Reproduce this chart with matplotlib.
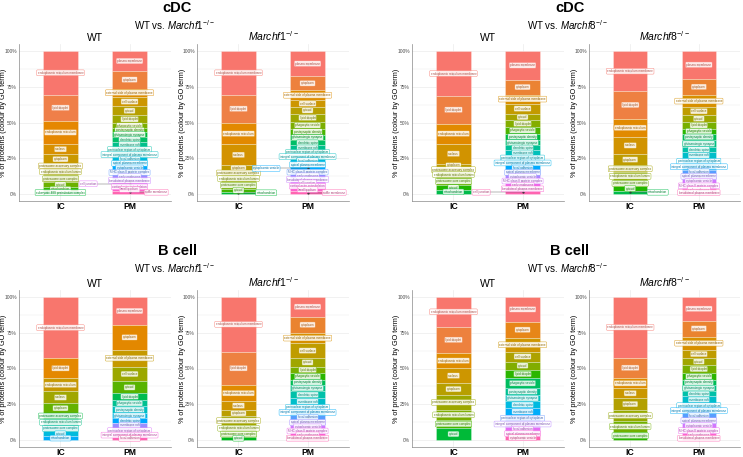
import numpy as np
import matplotlib
matplotlib.use('Agg')
import matplotlib.pyplot as plt

plt.rcParams['font.family'] = ['Liberation Sans', 'DejaVu Sans']
plt.rcParams['mathtext.fontset'] = 'custom'
plt.rcParams['mathtext.rm'] = 'Liberation Sans'
plt.rcParams['mathtext.it'] = 'Liberation Sans:italic'

# cumulative % boundaries of each stacked bar, top -> bottom
cdc_wt1_ic = [100, 69.6, 51, 35.1, 27.6, 21.1, 18, 12.9, 8.2, 4.7, 1.9, 0]
cdc_wt1_pm = [100, 86.2, 73.8, 67.9, 61.4, 55, 49.6, 46, 43.3, 39.8, 36.3, 32.8,
              29.3, 25.8, 22.9, 19.9, 16.4, 13.6, 10.5, 8.2, 5.9, 4, 2.3, 0]
cdc_m1_ic = [100, 69.6, 49.6, 34.7, 19.9, 16.4, 12.9, 8.5, 3.5, 1.5, 0]
cdc_m1_pm = [100, 82.4, 72.6, 65.6, 60.9, 56.2, 50.4, 45.7, 41.5, 37.5, 34, 30.4,
             27.6, 24.6, 21.8, 19.2, 16.4, 14.1, 11.2, 8.9, 6.6, 4.2, 1.9, 0]
cdc_wt8_ic = [100, 68.6, 49.2, 35.1, 21.1, 18.7, 15.2, 11.7, 5.9, 2.8, 0]
cdc_wt8_pm = [100, 80.1, 69.6, 63.2, 56.2, 51.5, 46.8, 42.2, 37.9, 33.9, 30.4, 26.9,
              23.4, 19.9, 16.4, 13.6, 10.5, 7.5, 4.7, 2.3, 0]
cdc_m8_ic = [100, 71.9, 52.7, 39.8, 28.1, 19.9, 15.2, 9.4, 5.2, 2.3, 0]
cdc_m8_pm = [100, 80.8, 69.1, 60.9, 55, 50.4, 45.7, 42.2, 37.5, 32.8, 29.3, 24.6,
             21.1, 16.9, 14.1, 10.5, 7, 4.2, 1.9, 0]

b_wt1_ic = [100, 57.2, 43.2, 33.9, 25.5, 19, 14.5, 10, 6, 2.5, 0]
b_wt1_pm = [100, 80.6, 63.1, 51.4, 40.9, 32.7, 28, 23.4, 18.7, 15, 12, 8.2, 4.7, 2, 0]
b_m1_ic = [100, 61.9, 38.6, 26.9, 21, 16.4, 10.5, 5.8, 2.3, 0]
b_m1_pm = [100, 86.4, 74.8, 67.8, 57.2, 51.4, 46.7, 42.1, 38.6, 33.9, 29.2, 24.5,
           21, 17.5, 14, 10.5, 7.7, 4.7, 2.3, 0]
b_wt8_ic = [100, 79.4, 60.7, 50.2, 39.7, 31.5, 21, 14, 8.2, 0]
b_wt8_pm = [100, 82.9, 71.3, 61.9, 54.9, 49.1, 43.2, 36.2, 31.5, 26.9, 22.2, 17.5,
            12.9, 9.3, 5.8, 3, 0]
b_m8_ic = [100, 57.7, 43.2, 36.2, 29.2, 21, 12.9, 5.8, 0]
b_m8_pm = [100, 83.6, 72.4, 63.1, 57.2, 52.6, 46.7, 42.1, 38.6, 33.9, 30.4, 25.7,
           22.2, 18.7, 15.2, 11.7, 8.2, 4.7, 2.3, 0]

ic_terms = ['endoplasmic reticulum membrane', 'lipid droplet', 'endoplasmic reticulum',
            'nucleus', 'cytoplasm', 'proteasome accessory complex',
            'endoplasmic reticulum lumen', 'proteasome core complex', 'cytosol',
            'mitochondrion', 'eukaryotic 48S preinitiation complex']
pm_terms = ['plasma membrane', 'cytoplasm', 'external side of plasma membrane',
            'cell surface', 'cytosol', 'lipid droplet', 'phagocytic vesicle',
            'postsynaptic density', 'glutamatergic synapse', 'dendritic spine',
            'membrane raft', 'perinuclear region of cytoplasm',
            'integral component of plasma membrane', 'focal adhesion',
            'apical plasma membrane', 'cytoplasmic vesicle',
            'MHC class II protein complex', 'early endosome',
            'basolateral plasma membrane', 'cell junction',
            'cortical actin cytoskeleton', 'lamellipodium', 'ruffle membrane',
            'cell projection']

group_names = ['cDC', 'cDC', 'B cell', 'B cell']
ko_names = ['Marchf1', 'Marchf8', 'Marchf1', 'Marchf8']
categories = ['IC', 'PM']
yticks = [0, 0.25, 0.5, 0.75, 1.0]
ytick_labels = ['0%', '25%', '50%', '75%', '100%']


def hcl(h, c=100, l=65):
    h = np.deg2rad(h)
    u, v = c * np.cos(h), c * np.sin(h)
    Xn, Yn, Zn = 95.047, 100.0, 108.883
    den = Xn + 15 * Yn + 3 * Zn
    un, vn = 4 * Xn / den, 9 * Yn / den
    Y = Yn * ((l + 16) / 116) ** 3
    up, vp = u / (13 * l) + un, v / (13 * l) + vn
    X = Y * 9 * up / (4 * vp)
    Z = Y * (12 - 3 * up - 20 * vp) / (4 * vp)
    M = np.array([[3.2406, -1.5372, -0.4986],
                  [-0.9689, 1.8758, 0.0415],
                  [0.0557, -0.2040, 1.0570]])
    rgb = np.clip(M @ np.array([X, Y, Z]) / 100, 0, None)
    rgb = np.where(rgb <= 0.0031308, 12.92 * rgb, 1.055 * rgb ** (1 / 2.4) - 0.055)
    return tuple(np.clip(rgb, 0, 1))


def draw_bar(ax, xc, bounds, terms, end_hue, offsets, placed):
    b = np.array(bounds) / 100.0
    n = len(b) - 1
    hues = np.linspace(15, end_hue, n)
    for i in range(n):
        top, bot = b[i], b[i + 1]
        col = hcl(hues[i])
        ax.bar(xc, top - bot, bottom=bot, width=0.5, color=col,
               edgecolor=(1, 1, 1, 0.5), linewidth=0.4, zorder=1)
        mid = (top + bot) / 2
        txt = terms[i % len(terms)]
        hw = len(txt) * 0.011 + 0.03
        best, best_n = xc, 99
        for off in offsets:
            cand = min(max(xc + off, 0.42 + hw), 2.58 - hw)
            n_hit = sum(abs(mid - py) < 0.028 and abs(cand - px) < hw + phw
                        for px, py, phw in placed)
            if n_hit < best_n:
                best, best_n = cand, n_hit
            if n_hit == 0:
                break
        xl = best
        placed.append((xl, mid, hw))
        ax.plot([xc], [mid], 'o', color='#333333', ms=0.6, zorder=2)
        if abs(xl - xc) > 0.01:
            ax.plot([xc, xl], [mid, mid], color='#555555', lw=0.3, zorder=2)
        dark = tuple(np.array(col) * 0.7)
        ax.text(xl, mid, txt, fontsize=2.2, color=dark, ha='center', va='center',
                zorder=3,
                bbox=dict(boxstyle='round,pad=0.3', fc=(1, 1, 1, 0.85), ec=col, lw=0.3))


panels = [
    (cdc_wt1_ic, cdc_wt1_pm, 135, 'WT', (19, 171), 44),
    (cdc_m1_ic, cdc_m1_pm, 135, r'$\mathit{Marchf1}^{-/-}$', (197, 349), 44),
    (cdc_wt8_ic, cdc_wt8_pm, 140, 'WT', (412, 564), 44),
    (cdc_m8_ic, cdc_m8_pm, 140, r'$\mathit{Marchf8}^{-/-}$', (589, 740), 44),
    (b_wt1_ic, b_wt1_pm, 235, 'WT', (19, 171), 290),
    (b_m1_ic, b_m1_pm, 130, r'$\mathit{Marchf1}^{-/-}$', (197, 349), 290),
    (b_wt8_ic, b_wt8_pm, 135, 'WT', (412, 564), 290),
    (b_m8_ic, b_m8_pm, 125, r'$\mathit{Marchf8}^{-/-}$', (589, 740), 290),
]

W, H = 743, 457
fig = plt.figure(figsize=(W / 100, H / 100), dpi=100)

for ic, pm, ic_hue, title, (x0, x1), y0 in panels:
    y1 = y0 + 157
    ax = fig.add_axes([x0 / W, 1 - y1 / H, (x1 - x0) / W, (y1 - y0) / H])
    ax.set_xlim(0.4, 2.6)
    ax.set_ylim(-0.05, 1.05)
    for y in np.arange(0, 1.01, 0.125):
        ax.axhline(y, color='#EBEBEB', lw=0.5 if y * 4 % 1 == 0 else 0.3, zorder=0)
    for x in [1, 2]:
        ax.axvline(x, color='#EBEBEB', lw=0.5, zorder=0)
    placed = []
    draw_bar(ax, 1, ic, ic_terms, ic_hue, [0, 0.2, -0.2, 0.4, -0.4], placed)
    draw_bar(ax, 2, pm, pm_terms, 345, [0, -0.2, 0.2, -0.4, 0.4, -0.6, 0.55], placed)
    ax.set_xticks([1, 2])
    ax.set_xticklabels(categories, fontsize=6.2, fontweight='bold')
    ax.set_yticks(yticks)
    ax.set_yticklabels(ytick_labels, fontsize=3.5, color='#4D4D4D')
    ax.tick_params(length=0, pad=1.5)
    ax.tick_params(axis='x', pad=0.8)
    for s in ['top', 'right']:
        ax.spines[s].set_visible(False)
    for s in ['left', 'bottom']:
        ax.spines[s].set_color('#888888')
        ax.spines[s].set_linewidth(0.5)
    ax.set_title(title, fontsize=7.5, pad=2.5)
    fig.text((x0 - 15) / W, 1 - (y0 + y1) / 2 / H, '% of proteins (colour by GO term)',
             rotation=90, ha='center', va='center', fontsize=5.2)

for k, (g, ko) in enumerate(zip(group_names, ko_names)):
    cx = 177 if k % 2 == 0 else 570
    ty = 8 if k < 2 else 251
    fig.text(cx / W, 1 - ty / H, g, ha='center', va='center', fontsize=10.5,
             fontweight='bold')
    fig.text((cx - 2) / W, 1 - (ty + 17) / H, 'WT vs. $\\mathit{' + ko + '}^{-/-}$',
             ha='center', va='center', fontsize=7)

fig.savefig('out.png', dpi=100)
